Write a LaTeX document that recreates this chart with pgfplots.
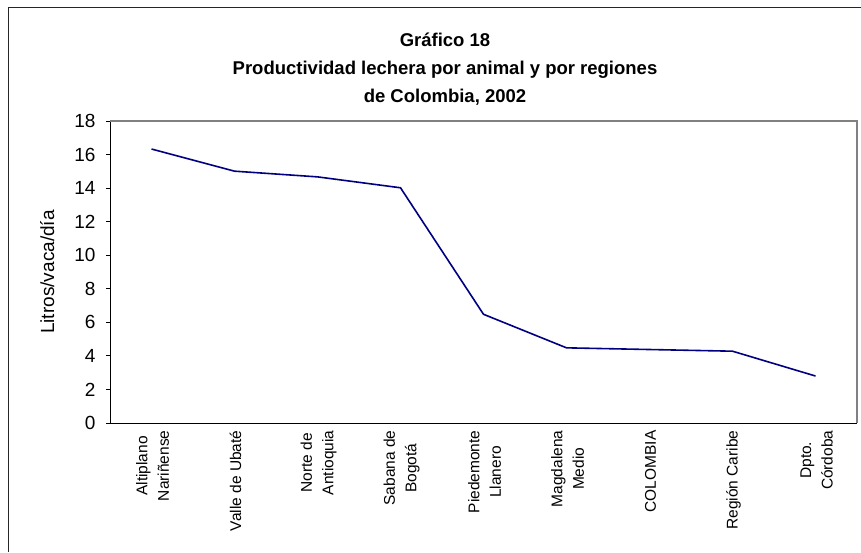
\documentclass[border=0pt]{standalone}
\usepackage{pgfplots}
\pgfplotsset{compat=1.18}
\usepackage{fontspec}
\setmainfont{Liberation Sans}
\definecolor{navyline}{HTML}{000080}
\begin{document}
\begin{tikzpicture}[x=1pt,y=1pt]
\path[use as bounding box] (0,0) rectangle (861,552);
% chart frame
\draw[black!85, line width=1pt] (861,544) -- (8,544) -- (8,0);
% title
\node[anchor=base, font=\bfseries\fontsize{18.5}{23}\selectfont] at (445,505) {Gráfico 18};
\node[anchor=base, font=\bfseries\fontsize{18.5}{23}\selectfont] at (445,477) {Productividad lechera por animal y por regiones};
\node[anchor=base, font=\bfseries\fontsize{18.5}{23}\selectfont] at (445,449) {de Colombia, 2002};
\begin{axis}[
    at={(110pt,129pt)}, anchor=south west,
    scale only axis,
    width=747pt, height=302pt,
    xmin=0, xmax=9,
    ymin=0, ymax=18,
    axis x line*=bottom,
    axis y line*=left,
    axis line style={black, line width=0.9pt},
    tick align=outside,
    major tick length=4pt,
    tick style={black, line width=0.9pt},
    ytick={0,2,...,18},
    xtick={0.5,1.5,...,8.5},
    xticklabels={{Altiplano\\Nariñense},{Valle de Ubaté},{Norte de\\Antioquia},{Sabana de\\Bogotá},{Piedemonte\\Llanero},{Magdalena\\Medio},{COLOMBIA},{Región Caribe},{Dpto.\\Córdoba}},
    x tick style={draw=none},
    extra x ticks={0,1,...,9},
    extra x tick labels={},
    extra x tick style={tick style={black, line width=0.9pt}, major tick length=4pt},
    xticklabel style={rotate=90, anchor=east, align=center, yshift=-1pt, font=\fontsize{15.5}{21.5}\selectfont},
    yticklabel style={xshift=-7pt, font=\fontsize{19}{22}\selectfont},
    /pgf/number format/assume math mode=true,
    ylabel={Litros/vaca/día},
    ylabel style={at={(axis description cs:-0.084,0.5)}, anchor=center, font=\fontsize{19}{23}\selectfont},
    clip=false,
]
\addplot[navyline, line width=1.6pt, mark=none] coordinates {
    (0.5,16.33) (1.5,15.01) (2.5,14.67) (3.5,14.02) (4.5,6.48)
    (5.5,4.48) (6.5,4.38) (7.5,4.28) (8.5,2.80)
};
\draw[gray, line width=1.2pt] (rel axis cs:0,1) -- (rel axis cs:1,1) -- (rel axis cs:1,0);
\end{axis}
\end{tikzpicture}
\end{document}
